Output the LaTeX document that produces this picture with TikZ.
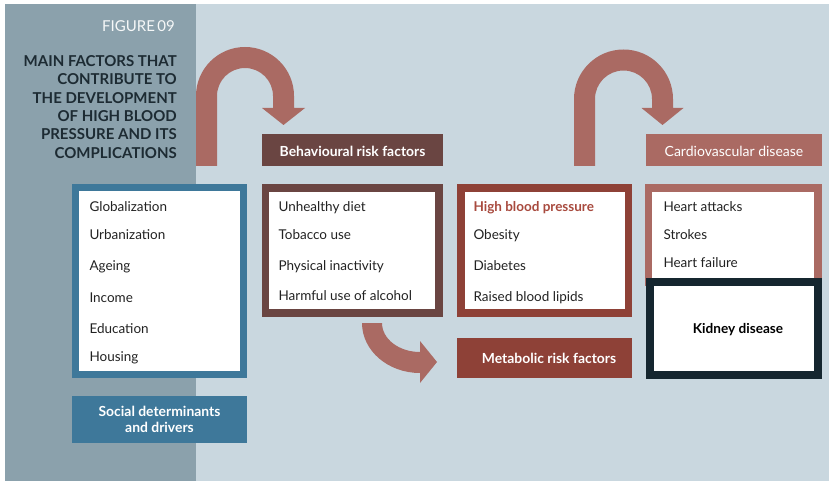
\documentclass[tikz,border=0pt]{standalone}
\usepackage{fontspec}
\setmainfont{Lato}
\definecolor{paneldark}{HTML}{8BA1AC}
\definecolor{panellight}{HTML}{C9D7DF}
\definecolor{socblue}{HTML}{3E789A}
\definecolor{behbrown}{HTML}{6A4542}
\definecolor{metred}{HTML}{8E4137}
\definecolor{salmon}{HTML}{AA6A63}
\definecolor{kiddark}{HTML}{15262F}
\definecolor{titletext}{HTML}{1D2B33}
\definecolor{listtext}{HTML}{222222}
\definecolor{hbptext}{HTML}{A84A3E}
\begin{document}
\begin{tikzpicture}[x=1pt,y=-1pt,
  framebox/.style={rectangle,fill=white,line width=7.5pt,inner sep=0pt},
  labelbox/.style={rectangle,inner sep=0pt,text=white,font=\fontsize{13.9}{16}\selectfont\bfseries,align=center},
  onelinelabel/.style={text height=14pt,text depth=0pt},
  item/.style={anchor=base west,inner sep=0pt,text=listtext,font=\fontsize{13.5}{15}\selectfont},
  ttl/.style={anchor=base east,inner sep=0pt,text=titletext,font=\fontsize{15}{18}\selectfont\bfseries},
  blockarrow/.style={fill=salmon}
]
\useasboundingbox (0,0) rectangle (830,481);
\fill[white] (0,0) rectangle (830,481);
\fill[panellight] (5,4) rectangle (829,481);
\fill[paneldark] (5,4) rectangle (196,481);

% title
\node[anchor=base east,inner sep=0pt,text=white!92!paneldark,font=\fontsize{15}{18}\selectfont] (fig) at (175,32) {FIGURE\,09};
\node[ttl] (t1) at (177,66.5) {MAIN FACTORS THAT};
\node[ttl] (t2) at (177,85) {CONTRIBUTE TO};
\node[ttl] (t3) at (177,103.3) {THE DEVELOPMENT};
\node[ttl] (t4) at (177,121.7) {OF HIGH BLOOD};
\node[ttl] (t5) at (177,140) {PRESSURE AND ITS};
\node[ttl] (t6) at (177,158.5) {COMPLICATIONS};

% U-arrows
\path[blockarrow] (196,166) -- (196,96) arc[start angle=180,end angle=360,radius=49]
  -- (294,108) -- (305,108) -- (283.5,125) -- (262,108) -- (273,108) -- (273,96)
  arc[start angle=360,end angle=180,radius=28] -- (217,166) -- cycle;
\path[blockarrow] (574,166) -- (574,99) arc[start angle=180,end angle=360,radius=49.5]
  -- (673,108) -- (683.5,108) -- (662.5,125) -- (641.5,108) -- (652,108) -- (652,99)
  arc[start angle=360,end angle=180,radius=28.5] -- (595,166) -- cycle;
\path[blockarrow] (362,323) arc[start angle=180,end angle=90,x radius=58,y radius=50]
  -- (420,383) -- (437,362) -- (420,341) -- (420,352)
  arc[start angle=90,end angle=180,x radius=38,y radius=29] -- cycle;

% frame boxes
\node[framebox,draw=socblue,minimum width=168pt,minimum height=187pt] (soc) at (159.5,281) {};
\node[framebox,draw=behbrown,minimum width=173.5pt,minimum height=125pt] (beh) at (352.2,250.5) {};
\node[framebox,draw=metred,minimum width=167.5pt,minimum height=125pt] (hbp) at (544.7,250.5) {};
\node[framebox,draw=salmon,minimum width=169.5pt,minimum height=94pt] (cvd) at (733.2,235) {};
\node[framebox,draw=kiddark,line width=8pt,minimum width=168pt,minimum height=93pt] (kid) at (734,328) {};

% labels
\node[labelbox,onelinelabel,fill=behbrown,minimum width=181pt,minimum height=32pt] (behl) at (352.5,150) {Behavioural risk factors};
\node[labelbox,onelinelabel,fill=salmon,minimum width=176pt,minimum height=32pt,font=\fontsize{14}{16}\selectfont] (cvdl) at (734,150) {Cardiovascular disease};
\node[labelbox,fill=metred,minimum width=175pt,minimum height=40pt] (metl) at (544.5,358) {\hspace*{9pt}Metabolic risk factors};
\node[labelbox,fill=socblue,minimum width=175pt,minimum height=47pt] (socl) at (159.5,419.5) {Social determinants\\and drivers};

% list items
\node[item] (s1) at (89.3,211.7) {Globalization};
\node[item] (s2) at (89.3,240) {Urbanization};
\node[item] (s3) at (89.3,270.7) {Ageing};
\node[item] (s4) at (89.3,302.7) {Income};
\node[item] (s5) at (89.3,333) {Education};
\node[item] (s6) at (89.3,361) {Housing};

\node[item] (b1) at (278.3,211.7) {Unhealthy diet};
\node[item] (b2) at (278.3,240) {Tobacco use};
\node[item] (b3) at (278.3,270.7) {Physical inactivity};
\node[item] (b4) at (278.3,300.7) {Harmful use of alcohol};

\node[item,text=hbptext,font=\fontsize{13.5}{15}\selectfont\bfseries] (m1) at (473.3,211.7) {High blood pressure};
\node[item] (m2) at (473.3,240) {Obesity};
\node[item] (m3) at (473.3,270.7) {Diabetes};
\node[item] (m4) at (473.3,301.7) {Raised blood lipids};

\node[item] (c1) at (663.3,211.7) {Heart attacks};
\node[item] (c2) at (663.3,240) {Strokes};
\node[item] (c3) at (663.3,267.3) {Heart failure};

\node[anchor=base,inner sep=0pt,text=black,font=\fontsize{13.6}{15}\selectfont\bfseries] (k1) at (738,333.3) {Kidney disease};
\end{tikzpicture}
\end{document}
